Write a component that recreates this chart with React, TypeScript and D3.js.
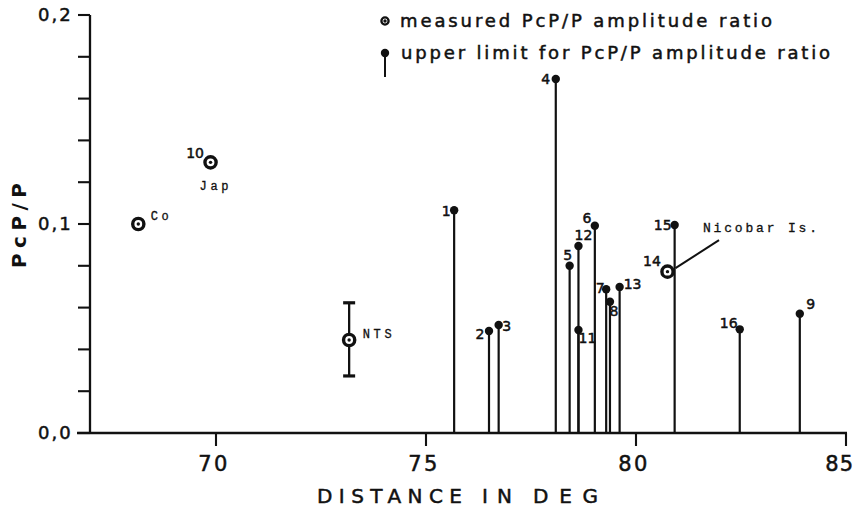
import React from "react";
import * as d3 from "d3";

// ---- data ----
const upperIds = ["1", "2", "3", "4", "5", "6", "7", "8", "9", "11", "12", "13", "15", "16"];
const upperDist = [75.67, 76.5, 76.73, 78.09, 78.42, 79.02, 79.29, 79.38, 83.9, 78.63, 78.63, 79.61, 80.92, 82.47];
const upperRatio = [0.1066, 0.0488, 0.0517, 0.1694, 0.080, 0.0992, 0.0688, 0.0628, 0.0571, 0.0493, 0.0895, 0.0699, 0.0995, 0.0496];

const measuredIds = ["Co", "10", "NTS", "14"];
const measuredDist = [68.15, 69.87, 73.17, 80.75];
const measuredRatio = [0.1, 0.1295, 0.0445, 0.0772];
const ntsErrLow = 0.0273;
const ntsErrHigh = 0.0623;

const xTicks = [70, 75, 80, 85];
const yMajor = [0.0, 0.1, 0.2];
const yMajorLabels = ["0,0", "0,1", "0,2"];
const yMinor = [0.02, 0.04, 0.06, 0.08, 0.12, 0.14, 0.16, 0.18];

const legendMeasured = "measured PcP/P amplitude ratio";
const legendUpper = "upper limit for PcP/P amplitude ratio";
const yTitle = "PcP/P";
const xTitleWords = ["DISTANCE", "IN", "DEG"];

// ---- layout (label placement offsets in px from the marker) ----
const upperLabelOffset: Record<string, [number, number]> = {
  "1": [-8, 1], "2": [-9, 3], "3": [8, 1], "4": [-10, 0], "5": [-2, -11],
  "6": [-8, -8], "7": [-6, -1], "8": [4, 9], "9": [11, -10], "11": [9, 8],
  "12": [5, -11], "13": [13, -3], "15": [-12, 0], "16": [-11, -6],
};

const W = 855, H = 508;
const x = d3.scaleLinear().domain([67, 85]).range([90, 846]);
const y = d3.scaleLinear().domain([0, 0.2]).range([433, 15]);

const SANS = "'DejaVu Sans', sans-serif";
const MONO = "'Liberation Mono', 'DejaVu Sans Mono', monospace";
const INK = "#111";

const heavy = { stroke: INK, strokeWidth: 0.5 };

function MeasuredMark({ cx, cy, r = 5.6, sw = 3.4 }: { cx: number; cy: number; r?: number; sw?: number }) {
  return (
    <g>
      <circle cx={cx} cy={cy} r={r} fill="#fff" stroke={INK} strokeWidth={sw} />
      <circle cx={cx} cy={cy} r={1.7} fill={INK} />
    </g>
  );
}

export default function App() {
  const x0 = x(67);
  const xEnd = x(85);
  const yBase = y(0);
  const ntsIdx = measuredIds.indexOf("NTS");
  const ntsX = x(measuredDist[ntsIdx]);
  const m14 = measuredIds.indexOf("14");
  const c14x = x(measuredDist[m14]);
  const c14y = y(measuredRatio[m14]);
  const co = measuredIds.indexOf("Co");
  const jp = measuredIds.indexOf("10");
  const lastTick = xTicks[xTicks.length - 1];

  return (
    <svg width={W} height={H} style={{ position: "absolute", left: 0, top: 0, background: "#fff" }}>
      <rect x={0} y={0} width={W} height={H} fill="#fff" />

      {/* axes */}
      <line x1={x0} x2={x0} y1={y(0.2)} y2={yBase} stroke={INK} strokeWidth={2.3} />
      <line x1={x0 - 13} x2={xEnd + 1} y1={yBase} y2={yBase} stroke={INK} strokeWidth={2.3} />
      {yMajor.concat(yMinor).map((v, i) => (
        <line key={"yt" + i} x1={x0 - 12} x2={x0} y1={y(v)} y2={y(v)} stroke={INK} strokeWidth={2.1} />
      ))}
      {yMajor.map((v, i) => (
        <text key={"yl" + i} x={38} y={y(v)} dy="0.36em" fontFamily={SANS} fontSize={18} letterSpacing={2} fill={INK} {...heavy}>
          {yMajorLabels[i]}
        </text>
      ))}
      {xTicks.map((v) => (
        <g key={"xt" + v}>
          <line x1={x(v)} x2={x(v)} y1={yBase} y2={yBase + 13} stroke={INK} strokeWidth={2.1} />
          {v === lastTick ? (
            <text x={W - 1} y={471} textAnchor="end" fontFamily={SANS} fontSize={21} letterSpacing={1} fill={INK} {...heavy}>
              {String(v)}
            </text>
          ) : (
            <text x={x(v) - 2} y={471} textAnchor="middle" fontFamily={SANS} fontSize={21} letterSpacing={2.5} fill={INK} {...heavy}>
              {String(v)}
            </text>
          )}
        </g>
      ))}

      {/* axis titles */}
      <text x={317} y={503} textLength={145} lengthAdjust="spacing" fontFamily={SANS} fontSize={20} fill={INK} {...heavy}>{xTitleWords[0]}</text>
      <text x={482} y={503} textLength={30} lengthAdjust="spacing" fontFamily={SANS} fontSize={20} fill={INK} {...heavy}>{xTitleWords[1]}</text>
      <text x={533} y={503} textLength={65} lengthAdjust="spacing" fontFamily={SANS} fontSize={20} fill={INK} {...heavy}>{xTitleWords[2]}</text>
      <text transform="translate(26,225.5) rotate(-90)" textAnchor="middle" textLength={85} lengthAdjust="spacing"
        fontFamily={SANS} fontSize={20} fontWeight="bold" fill={INK}>{yTitle}</text>

      {/* legend */}
      <MeasuredMark cx={385} cy={21} r={3.6} sw={2.3} />
      <text x={400} y={27} textLength={372} lengthAdjust="spacing" fontFamily={SANS} fontSize={18} fill={INK} {...heavy}>{legendMeasured}</text>
      <line x1={385} x2={385} y1={53} y2={77} stroke={INK} strokeWidth={2} />
      <circle cx={385} cy={53} r={4.2} fill={INK} />
      <text x={401} y={59} textLength={429} lengthAdjust="spacing" fontFamily={SANS} fontSize={18} fill={INK} {...heavy}>{legendUpper}</text>

      {/* upper-limit stems */}
      {upperIds.map((id, i) => {
        const cx = x(upperDist[i]);
        const cy = y(upperRatio[i]);
        const [dx, dy] = upperLabelOffset[id];
        return (
          <g key={"u" + id}>
            <line x1={cx} x2={cx} y1={cy} y2={yBase} stroke={INK} strokeWidth={2.2} />
            <circle cx={cx} cy={cy} r={4.2} fill={INK} />
            <text x={cx + dx} y={cy + dy} textAnchor="middle" dominantBaseline="central"
              fontFamily={SANS} fontSize={14} fill={INK} {...heavy}>{id}</text>
          </g>
        );
      })}

      {/* NTS error bar */}
      <line x1={ntsX} x2={ntsX} y1={y(ntsErrHigh)} y2={y(ntsErrLow)} stroke={INK} strokeWidth={2.3} />
      <line x1={ntsX - 6} x2={ntsX + 6} y1={y(ntsErrHigh)} y2={y(ntsErrHigh)} stroke={INK} strokeWidth={3.2} />
      <line x1={ntsX - 6} x2={ntsX + 6} y1={y(ntsErrLow)} y2={y(ntsErrLow)} stroke={INK} strokeWidth={3.2} />

      {/* Nicobar leader */}
      <line x1={c14x + 8} x2={c14x + 51.5} y1={c14y - 3.5} y2={c14y - 31.5} stroke={INK} strokeWidth={2} />

      {/* measured points */}
      {measuredIds.map((id, i) => (
        <MeasuredMark key={"m" + id} cx={x(measuredDist[i])} cy={y(measuredRatio[i])} />
      ))}

      {/* measured labels */}
      <text x={x(measuredDist[co]) + 12.5} y={y(measuredRatio[co]) - 4} textLength={18} lengthAdjust="spacing"
        fontFamily={MONO} fontSize={12} fill={INK} stroke={INK} strokeWidth={0.3}>Co</text>
      <text x={x(measuredDist[jp]) - 15.5} y={y(measuredRatio[jp]) - 9} textAnchor="middle" dominantBaseline="central"
        fontFamily={SANS} fontSize={14} fill={INK} {...heavy}>10</text>
      <text x={x(measuredDist[jp]) - 11} y={y(measuredRatio[jp]) + 27.5} textLength={29} lengthAdjust="spacing"
        fontFamily={MONO} fontSize={12} fill={INK} stroke={INK} strokeWidth={0.3}>Jap</text>
      <text x={ntsX + 13.5} y={y(measuredRatio[ntsIdx]) - 2} textLength={29} lengthAdjust="spacing"
        fontFamily={MONO} fontSize={12} fill={INK} stroke={INK} strokeWidth={0.3}>NTS</text>
      <text x={c14x - 15.5} y={c14y - 10.5} textAnchor="middle" dominantBaseline="central"
        fontFamily={SANS} fontSize={14} fill={INK} {...heavy}>14</text>
      <text x={c14x + 35.5} y={c14y - 39.5} textLength={114} lengthAdjust="spacing"
        fontFamily={MONO} fontSize={13} fill={INK} stroke={INK} strokeWidth={0.3}>Nicobar Is.</text>
    </svg>
  );
}
